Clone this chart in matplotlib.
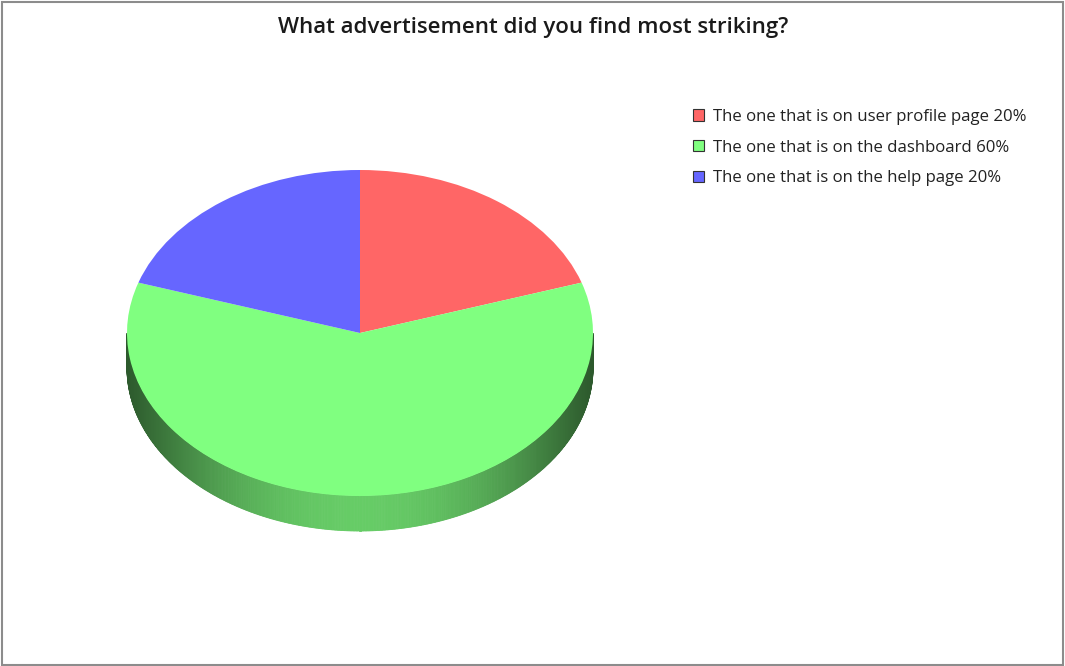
import numpy as np
import matplotlib
matplotlib.use("Agg")
import matplotlib.pyplot as plt
from matplotlib.patches import Polygon, Rectangle
from matplotlib.transforms import Affine2D
from matplotlib.colors import to_rgb

plt.rcParams['font.family'] = ['Open Sans', 'DejaVu Sans']

title = "What advertisement did you find most striking?"
labels = ["The one that is on user profile page",
          "The one that is on the dashboard",
          "The one that is on the help page"]
values = [20, 60, 20]
colors = ["#ff6666", "#80ff80", "#6666ff"]

W, H = 1065, 666
fig = plt.figure(figsize=(W / 100, H / 100), dpi=100)
ax = fig.add_axes([0, 0, 1, 1])

# ellipse geometry of the tilted pie (in pixel units)
cx, cy = 360, 333
rx, ry = 233, 163
depth = 35

wedges, _ = ax.pie(values, colors=colors, startangle=90, counterclock=False,
                   wedgeprops=dict(linewidth=0))
squash = Affine2D().scale(rx, ry).translate(cx, cy) + ax.transData
for w in wedges:
    w.set_transform(squash)
    w.set_zorder(3)

ax.set_xlim(0, W)
ax.set_ylim(0, H)
ax.set_aspect('auto')
ax.axis('off')

# front side of the pie, shaded with a horizontal gradient
def shade(rgb, t):
    # t in [0,1]: 0 = edge (dark), 1 = front (light)
    dark = np.array(rgb) * 0.35
    light = np.array(rgb) * 0.80
    return tuple(dark + (light - dark) * t)

for w, c in zip(wedges, colors):
    lo, hi = min(w.theta1, w.theta2), max(w.theta1, w.theta2)
    angs = np.linspace(lo, hi, 600)
    angs = angs[(np.mod(angs, 360) >= 180) & (np.mod(angs, 360) <= 360)]
    if len(angs) < 2:
        continue
    rgb = to_rgb(c)
    for a, b in zip(angs[:-1], angs[1:]):
        ra, rb = np.radians(a), np.radians(b)
        xa, ya = cx + rx * np.cos(ra), cy + ry * np.sin(ra)
        xb, yb = cx + rx * np.cos(rb), cy + ry * np.sin(rb)
        m = np.radians((a + b) / 2)
        t = np.clip(np.sin(-m), 0, 1) ** 2.2
        col = shade(rgb, t)
        poly = Polygon([(xa, ya), (xb, yb), (xb, yb - depth), (xa, ya - depth)],
                       closed=True, facecolor=col, edgecolor=col,
                       linewidth=0.6, zorder=2)
        ax.add_patch(poly)

# title
fig.text(533 / W, 1 - 27 / H, title, ha='center', va='center',
         fontsize=16, fontweight='semibold', color='#1a1a1a')

# legend
leg_labels = [f"{l} {v}%" for l, v in zip(labels, values)]
leg = ax.legend(wedges, leg_labels, loc='upper left',
                bbox_to_anchor=(693 / W, 1 - 109 / H), bbox_transform=fig.transFigure,
                frameon=False, fontsize=12.1, handlelength=0.66, handleheight=0.66,
                handletextpad=0.55, labelspacing=0.87, borderpad=0, borderaxespad=0)
for h in leg.legend_handles:
    h.set_edgecolor('#333333')
    h.set_linewidth(0.8)
for t in leg.get_texts():
    t.set_color('#222222')

# outer frame
fig.patches.append(Rectangle((1.5 / W, 1.5 / H), (W - 3.5) / W, (H - 3) / H,
                             transform=fig.transFigure, fill=False,
                             edgecolor='#8c8c8c', linewidth=1.5))

fig.savefig("out.png", dpi=100, facecolor='white')
